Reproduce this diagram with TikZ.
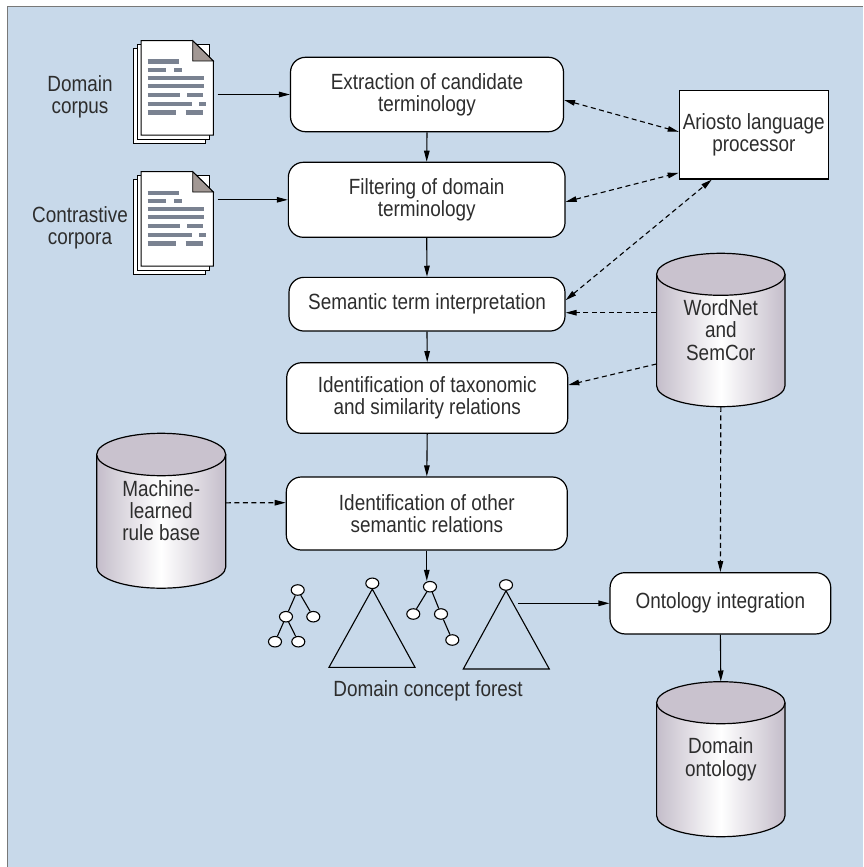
\documentclass[tikz,border=0pt]{standalone}
\usepackage{fontspec}
\setmainfont{Liberation Sans}[FakeStretch=0.86]
\usetikzlibrary{arrows.meta,calc,shapes.geometric}
\definecolor{bg}{RGB}{200,217,234}
\definecolor{frame}{RGB}{120,120,120}
\definecolor{txt}{RGB}{45,45,45}
\definecolor{cylc}{RGB}{196,189,202}
\definecolor{cyltop}{RGB}{201,194,206}
\definecolor{doclines}{RGB}{122,130,145}
\definecolor{fold}{RGB}{162,152,148}
\newcommand{\docstack}[3]{%
  \begin{scope}[shift={(#2,#3)}]
    \draw[line width=1pt, fill=white] (-8,8) rectangle (64.3,102.3);
    \draw[line width=1pt, fill=white] (-4,4) rectangle (68.3,98.3);
    \draw[line width=1pt, fill=white] (0,0) -- (51.7,0) -- (72.3,20.3) -- (72.3,94.3) -- (0,94.3) -- cycle;
    \draw[line width=0.9pt, fill=fold] (51.7,0) -- (72.3,20.3) -- (51.7,20.3) -- cycle;
    \begin{scope}[line width=4.4pt, doclines]
      \draw (6.7,21) -- (38,21);
      \draw (6.7,29.3) -- (24.7,29.3); \draw (33,29.3) -- (40.7,29.3);
      \draw (6.7,37) -- (63,37);
      \draw (6.7,45.3) -- (63,45.3);
      \draw (6.7,54.3) -- (39,54.3); \draw (46.3,54.3) -- (62.3,54.3);
      \draw (6.7,63.3) -- (50.7,63.3); \draw (58,63.3) -- (65,63.3);
      \draw (6.7,71.6) -- (34.7,71.6); \draw (44.7,71.6) -- (62.3,71.6);
    \end{scope}
    \node[minimum width=72.3pt, minimum height=94.3pt, inner sep=0pt] (#1) at (36.15,47.15) {};
  \end{scope}}
\newcommand{\mycyl}[5]{% #1 cx, #2 top-ellipse cy, #3 bottom-ellipse cy, #4 half width, #5 ry
  \shade[left color=cylc, right color=cylc, middle color=white]
    (#1-#4,#2) -- (#1-#4,#3) arc[start angle=180, end angle=0, x radius=#4, y radius=#5] -- (#1+#4,#2) -- cycle;
  \draw[line width=1.2pt] (#1-#4,#2) -- (#1-#4,#3) arc[start angle=180, end angle=0, x radius=#4, y radius=#5] -- (#1+#4,#2);
  \draw[line width=1.2pt, fill=cyltop] (#1,#2) ellipse[x radius=#4, y radius=#5];}
\begin{document}
\begin{tikzpicture}[x=1pt, y=-1pt,
  every node/.style={font=\fontsize{22}{22.3}\selectfont, text=txt},
  proc/.style={draw, line width=1.2pt, fill=white, rounded corners=15pt, align=center, inner sep=0pt},
  arr/.style={line width=1.1pt, -{Triangle[length=11pt, width=5.5pt]}},
  darr/.style={arr, dash pattern=on 5pt off 3.5pt},
  ddarr/.style={line width=1.1pt, dash pattern=on 5pt off 3.5pt, {Triangle[length=11pt, width=5.5pt]}-{Triangle[length=11pt, width=5.5pt]}},
  tn/.style={draw, line width=1.1pt, fill=white, ellipse, minimum width=13pt, minimum height=10.5pt, inner sep=0pt},
  tedge/.style={line width=1.1pt},
  lbl/.style={align=center, inner sep=0pt}]
\useasboundingbox (0,0) rectangle (863,867);
\fill[bg] (7,7) rectangle (863,867);
\draw[frame, line width=1pt] (7,867) -- (7,7) -- (863,7);

% documents
\docstack{d1}{141}{40.7}
\docstack{d2}{141}{171.7}
\node[lbl] (l1) at (80,97) {Domain\\corpus};
\node[lbl] (l2) at (80,228) {Contrastive\\corpora};

% process boxes
\node[proc, minimum width=273pt, minimum height=74.4pt] (b1) at (427,94.5) {Extraction of candidate\\terminology};
\node[proc, minimum width=276.7pt, minimum height=75pt] (b2) at (426.7,199.8) {Filtering of domain\\terminology};
\node[proc, minimum width=276pt, minimum height=53.7pt] (b3) at (427,304.2) {Semantic term interpretation};
\node[proc, minimum width=281pt, minimum height=70.6pt] (b4) at (427.2,398) {Identification of taxonomic\\and similarity relations};
\node[proc, minimum width=281pt, minimum height=73pt] (b5) at (426.8,513.5) {Identification of other\\semantic relations};
\node[proc, minimum width=220.7pt, minimum height=61.3pt] (oi) at (720.4,603.3) {Ontology integration};

% Ariosto
\node[draw, line width=1.2pt, fill=white, align=center, inner sep=0pt, minimum width=149pt, minimum height=88.3pt] (ar) at (753.8,134.8) {Ariosto language\\processor};

% cylinders
\mycyl{720.8}{274.3}{385.7}{64.2}{21}
\node[lbl, minimum width=128.4pt, minimum height=153.4pt] (wn) at (720.8,330) {WordNet\\and\\SemCor};
\mycyl{720.8}{702.7}{815.7}{64.2}{21}
\node[lbl, minimum width=128.4pt, minimum height=155pt] (do) at (720.8,759.2) {Domain\\ontology};
\mycyl{161.2}{454.5}{567}{64.5}{21.2}
\node[lbl, minimum width=129pt, minimum height=155pt] (rb) at (161.2,510.8) {Machine-\\learned\\rule base};

% forest
\node[tn] (t1r) at (297.7,590) {};
\node[tn] (t1a) at (286,616.7) {};
\node[tn] (t1b) at (313.3,616.7) {};
\node[tn] (t1c) at (275,641.7) {};
\node[tn] (t1d) at (298.3,641.7) {};
\draw[tedge] (t1r) -- (t1a) (t1r) -- (t1b) (t1a) -- (t1c) (t1a) -- (t1d);
\node[tn] (t2r) at (372.3,583.3) {};
\coordinate (t2l) at (329,667.3);
\coordinate (t2q) at (415,667.3);
\draw[tedge] (t2r.south) -- (t2l) -- (t2q) -- (t2r.south);
\node[tn] (t3r) at (430,586.7) {};
\node[tn] (t3a) at (413.3,614) {};
\node[tn] (t3b) at (441,614) {};
\node[tn] (t3c) at (452.3,640) {};
\draw[tedge] (t3r) -- (t3a) (t3r) -- (t3b) (t3b) -- (t3c);
\node[tn] (t4r) at (506,585) {};
\coordinate (t4l) at (463.3,669);
\coordinate (t4q) at (549.3,669);
\draw[tedge] (t4r.south) -- (t4l) -- (t4q) -- (t4r.south);
\node[lbl] (fl) at (428,690.7) {Domain concept forest};
\coordinate (t4o) at (518.3,603.3);

% solid arrows
\coordinate (d1o) at ($(d1.east)+(4,0)$);
\coordinate (d2o) at ($(d2.east)+(4,0)$);
\draw[arr] (d1o |- b1.west) -- (b1.west);
\draw[arr] (d2o |- b2.west) -- (b2.west);
\draw[arr] (b1.south) -- (b2.north);
\draw[arr] (b2.south) -- (b3.north);
\draw[arr] (b3.south) -- (b4.north);
\draw[arr] (b4.south) -- (b5.north);
\draw[arr] (b5.south) -- (b5.south |- t3r.north);
\draw[arr] (t4o) -- (oi.west |- t4o);
\draw[arr] (oi.south) -- (do.north);

% dashed arrows
\draw[ddarr] ($(b1.east)+(0,5.5)$) -- ($(ar.west)+(0,-3)$);
\draw[ddarr] ($(b2.east)+(0,2)$) -- ($(ar.west)+(0,38)$);
\draw[ddarr] ($(b3.east)+(0,-4)$) -- ($(ar.south)+(-42,0)$);
\draw[darr] ($(wn.west)+(0,-17.3)$) -- ($(b3.east)+(0,8.5)$);
\draw[darr] ($(wn.west)+(0,34)$) -- ($(b4.east)+(0,-13)$);
\draw[darr] (wn.south) -- (oi.north);
\draw[darr] ($(rb.east)+(0,-8)$) -- ($(b5.west)+(0,-10.8)$);
\end{tikzpicture}
\end{document}
